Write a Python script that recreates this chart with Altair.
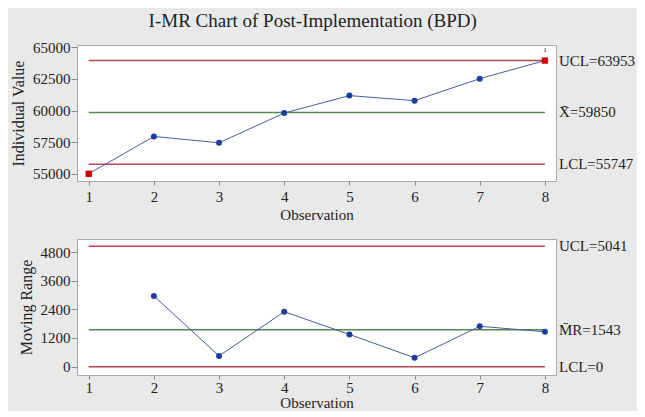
import altair as alt
import pandas as pd

# ---- data ----
observations = [1, 2, 3, 4, 5, 6, 7, 8]
individual_values = [55000, 57950, 57450, 59800, 61180, 60780, 62520, 63950]
mr_observations = [2, 3, 4, 5, 6, 7, 8]
moving_ranges = [2960, 450, 2300, 1350, 370, 1690, 1460]
flagged_obs = [1, 8]            # points failing test 1 (red squares)
test_label_obs = [8]            # points carrying the "1" test label

i_limit_names = ["UCL=63953", "X\u0304=59850", "LCL=55747"]
i_limit_values = [63953, 59850, 55747]
i_limit_kinds = ["limit", "center", "limit"]

mr_limit_names = ["UCL=5041", "M\u0304R=1543", "LCL=0"]
mr_limit_values = [5041, 1543, 0]
mr_limit_kinds = ["limit", "center", "limit"]

x_ticks = observations
i_ticks = [55000, 57500, 60000, 62500, 65000]
mr_ticks = [0, 1200, 2400, 3600, 4800]

# ---- styling ----
FONT = "Liberation Serif"
W, H = 479, 136
LINE_COLOR = "#4d5b98"
DOT_COLOR = "#1c3f9e"
RED = "#d20000"
LIMIT_COLOR = "#b5474a"
CENTER_COLOR = "#4f8a4f"

ind_df = pd.DataFrame({
    "obs": observations,
    "value": individual_values,
    "flag": [o in flagged_obs for o in observations],
})
mr_df = pd.DataFrame({"obs": mr_observations, "value": moving_ranges})
i_lim = pd.DataFrame({"name": i_limit_names, "value": i_limit_values, "kind": i_limit_kinds,
                      "x1": observations[0], "x2": observations[-1]})
mr_lim = pd.DataFrame({"name": mr_limit_names, "value": mr_limit_values, "kind": mr_limit_kinds,
                       "x1": observations[0], "x2": observations[-1]})
lab_df = ind_df[ind_df["obs"].isin(test_label_obs)].assign(lab="1")

x_scale = alt.Scale(domain=[0.82, 8.17], nice=False, zero=False)


def x_axis(label_pad, title_pad):
    return alt.Axis(values=x_ticks, title="Observation", grid=False, domain=False,
                    tickSize=4, labelPadding=label_pad, titlePadding=title_pad, labelFontSize=15,
                    titleFontSize=15, labelColor="#222", titleColor="#222",
                    titleFontWeight="normal", tickColor="#888", labelOverlap=False)


def y_axis(title, ticks):
    return alt.Axis(values=ticks, title=title, grid=False, domain=False, format="d",
                    tickSize=6, labelPadding=1, titlePadding=6, labelFontSize=15,
                    titleFontSize=16, labelColor="#222", titleColor="#222",
                    titleFontWeight="normal", tickColor="#888", labelOverlap=False)


def panel(data, lim, y_title, y_domain, ticks, with_flags, label_pad, title_pad):
    y_scale = alt.Scale(domain=y_domain, nice=False, zero=False)
    yax = y_axis(y_title, ticks)
    xax = x_axis(label_pad, title_pad)
    x_enc = alt.X("obs:Q", scale=x_scale, axis=xax)
    y_enc = alt.Y("value:Q", scale=y_scale, axis=yax)
    color_scale = alt.Scale(domain=["limit", "center"], range=[LIMIT_COLOR, CENTER_COLOR])

    rules = alt.Chart(lim).mark_rule(strokeWidth=1.5).encode(
        x=alt.X("x1:Q", scale=x_scale, axis=xax),
        x2="x2:Q",
        y=alt.Y("value:Q", scale=y_scale, axis=yax),
        color=alt.Color("kind:N", scale=color_scale, legend=None),
    )
    texts = alt.Chart(lim).mark_text(align="left", baseline="middle", fontSize=15,
                                     color="#222", font=FONT).encode(
        x=alt.value(W + 3),
        y=alt.Y("value:Q", scale=y_scale, axis=yax),
        text="name:N",
    )
    line = alt.Chart(data).mark_line(color=LINE_COLOR, strokeWidth=1).encode(x=x_enc, y=y_enc)
    if with_flags:
        dots = alt.Chart(data).transform_filter("!datum.flag").mark_point(
            filled=True, shape="circle", size=36, color=DOT_COLOR, opacity=1).encode(x=x_enc, y=y_enc)
        squares = alt.Chart(data).transform_filter("datum.flag").mark_point(
            filled=True, shape="square", size=40, color=RED, opacity=1).encode(x=x_enc, y=y_enc)
        tag = alt.Chart(lab_df).mark_text(fontSize=7, dy=-11, color="#111", font=FONT).encode(
            x=x_enc, y=y_enc, text="lab:N")
        layers = [rules, line, dots, squares, tag, texts]
    else:
        dots = alt.Chart(data).mark_point(
            filled=True, shape="circle", size=36, color=DOT_COLOR, opacity=1).encode(x=x_enc, y=y_enc)
        layers = [rules, line, dots, texts]
    return alt.layer(*layers).properties(width=W, height=H)


top = panel(ind_df, i_lim, "Individual Value", [54430, 65180], i_ticks, True, 4, 3)
bottom = panel(mr_df, mr_lim, "Moving Range", [-350, 5346], mr_ticks, False, 1, 0)

chart = alt.vconcat(top, bottom, spacing=15).properties(
    title=alt.TitleParams("I-MR Chart of Post-Implementation (BPD)", fontSize=19,
                          fontWeight="normal", color="#222", font=FONT, anchor="middle",
                          dx=-10, offset=9),
    background="#e9e9e9",
    padding={"left": 2, "top": 3, "right": 1, "bottom": 0},
).configure(font=FONT).configure_view(fill="white", stroke="#a8a8a8", strokeWidth=1)

chart.save("out.html", embed_options={"renderer": "svg", "actions": False})
